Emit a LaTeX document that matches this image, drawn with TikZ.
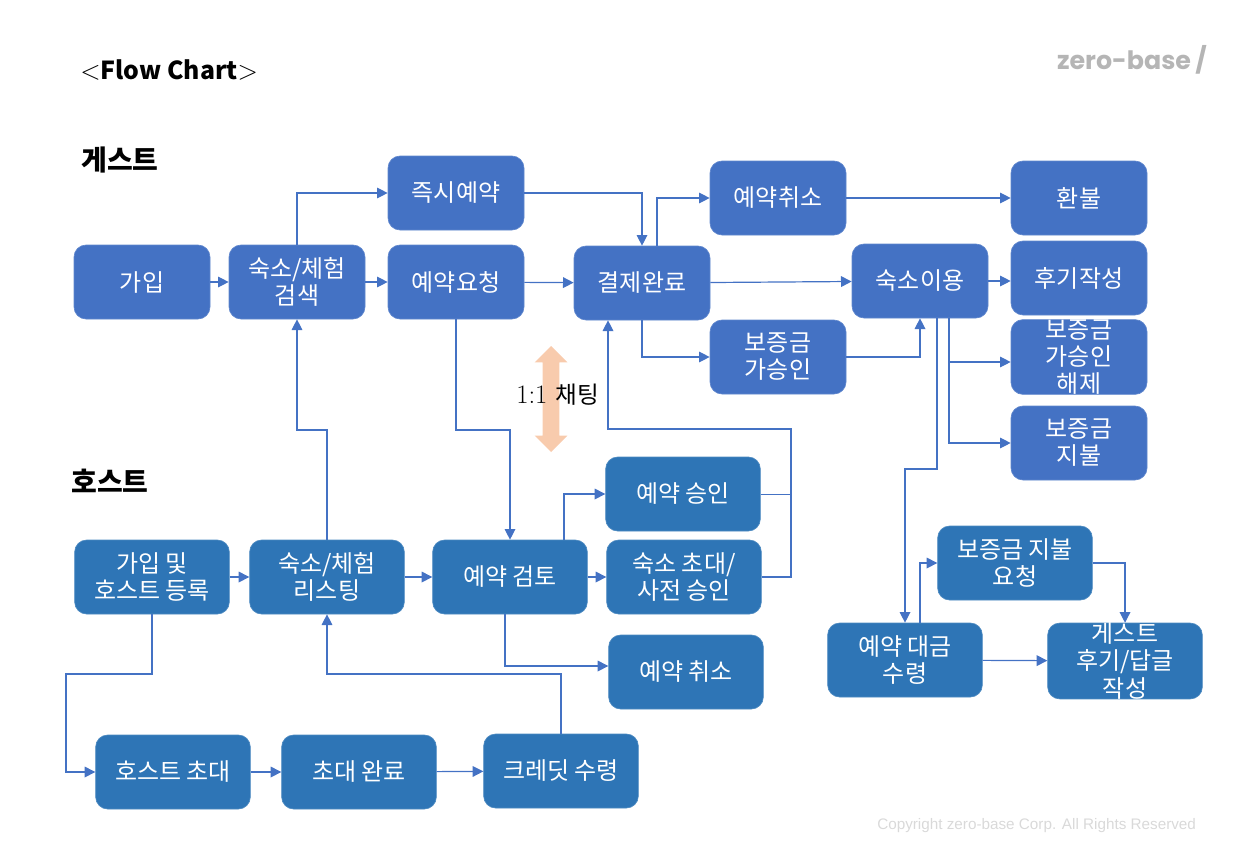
\documentclass[tikz,border=0pt]{standalone}
\usepackage{fontspec}
\usepackage{xcolor}
\usetikzlibrary{arrows.meta,calc,shapes.arrows}
\newfontfamily\kor{Noto Sans CJK KR}
\newfontfamily\logofont{Poppins}
\newfontfamily\copyfont{Liberation Sans}
\definecolor{gBlue}{HTML}{4472C4}
\definecolor{hBlue}{HTML}{2E75B6}
\definecolor{chatPeach}{HTML}{F8CBAD}
\definecolor{logoGray}{HTML}{B5B5B5}
\definecolor{copyGray}{HTML}{D9D9D9}
\tikzset{
  gbox/.style={rectangle, rounded corners=9pt, fill=gBlue, draw=gBlue!85!white, line width=0.5pt, minimum width=102pt, minimum height=55.5pt, inner sep=0pt, align=center, text=white, font=\kor\fontsize{18}{20.3}\selectfont},
  hbox/.style={gbox, fill=hBlue, draw=hBlue!85!white, minimum width=116pt},
  conn/.style={draw=gBlue, line width=0.9pt, -{Triangle[length=8pt, width=8pt]}},
  head/.style={font=\kor\bfseries\fontsize{21}{24}\selectfont, text=black, inner sep=0pt},
}
\begin{document}
\begin{tikzpicture}[x=0.75pt, y=-0.75pt]
\useasboundingbox (0,0) rectangle (1245,860);
\node[inner sep=0pt, anchor=west] (title) at (80,70) {\fontsize{20}{24}\selectfont <\kor\bfseries\fontsize{18.6}{24}\selectfont Flow Chart\rmfamily\mdseries\fontsize{20}{24}\selectfont >};
\node[inner sep=0pt, anchor=east, text=logoGray, font=\logofont\bfseries\fontsize{19}{24}\selectfont] (logo) at (1207,60) {zero-base\,/};
\node[head, anchor=west] (guest) at (81,160) {게스트};
\node[head, anchor=west] (host) at (71,481) {호스트};
\node[inner sep=0pt, anchor=west, text=copyGray, font=\copyfont\fontsize{11.45}{13}\selectfont] (copy) at (877,826) {Copyright zero-base Corp. All Rights Reserved};
\node[double arrow, rotate=90, fill=chatPeach, inner sep=6pt, minimum height=79.5pt, minimum width=24pt, double arrow head extend=6pt] (chat) at (551,399) {};
\node[inner sep=0pt, anchor=west] (chatlbl) at (516,395) {\fontsize{20}{24}\selectfont 1:1\hspace{6pt}\kor\fontsize{17.7}{24}\selectfont 채팅};
\node[gbox] (join) at (142,282) {가입};
\node[gbox] (search) at (297,282) {숙소/체험\\검색};
\node[gbox] (request) at (456,282) {예약요청};
\node[gbox] (instant) at (456,193) {즉시예약};
\node[gbox] (pay) at (642,283) {결제완료};
\node[gbox] (cancel) at (778,198) {예약취소};
\node[gbox] (refund) at (1079,198) {환불};
\node[gbox] (stay) at (920,281) {숙소이용};
\node[gbox] (review) at (1079,278) {후기작성};
\node[gbox] (deposit) at (778,357) {보증금\\가승인};
\node[gbox] (release) at (1079,357) {보증금\\가승인\\해제};
\node[gbox] (settle) at (1079,443) {보증금\\지불};
\node[hbox] (hjoin) at (152,577) {가입 및\\호스트 등록};
\node[hbox] (listing) at (327,577) {숙소/체험\\리스팅};
\node[hbox] (check) at (510,577) {예약 검토};
\node[hbox] (approve) at (683,494) {예약 승인};
\node[hbox] (preok) at (684,577) {숙소 초대/\\사전 승인};
\node[hbox] (hcancel) at (686,672) {예약 취소};
\node[hbox] (invite) at (173,772) {호스트 초대};
\node[hbox] (invited) at (359,772) {초대 완료};
\node[hbox] (credit) at (561,771) {크레딧 수령};
\node[hbox] (claim) at (1015,563) {보증금 지불\\요청};
\node[hbox] (income) at (905,660) {예약 대금\\수령};
\node[hbox] (hreview) at (1125,661) {게스트\\후기/답글\\작성};
\coordinate (bendA) at (791,429);
\coordinate (bendB) at (510,430);
\coordinate (bendC) at (297,430);
\coordinate (bendD) at (905,469);
\coordinate (bendE) at (66,674);
\coordinate (bendF) at (327,674);
\draw[conn] (join) -- (search);
\draw[conn] (search.north) |- (instant.west);
\draw[conn] (search) -- (request);
\draw[conn] (instant.east) -| (pay.north);
\draw[conn] (request) -- (pay);
\draw[conn] ($(pay.north)+(15,0)$) |- (cancel.west);
\draw[conn] (cancel) -- (refund);
\draw[conn] (pay) -- (stay);
\draw[conn] (pay.south) |- (deposit.west);
\draw[conn] (deposit.east) -| (stay.south);
\draw[conn] (stay.east) -- (review.west |- stay.east);
\draw[conn] ($(stay.south)+(29,0)$) |- ($(release.west)+(0,5)$);
\draw[conn] ($(stay.south)+(29,0)$) |- (settle.west);
\draw[conn] ($(stay.south)+(17,0)$) |- (bendD) -- (income.north);
\draw[conn] (request.south) |- (bendB) -- (check.north);
\draw[conn] (listing.north) |- (bendC) -- (search.south);
\draw[conn] (hjoin) -- (listing);
\draw[conn] (listing) -- (check);
\draw[conn] ($(check.north)+(54,0)$) |- (approve.west);
\draw[conn] (check) -- (preok);
\draw[conn] ($(check.south)+(-5,0)$) |- ($(hcancel.west)+(0,-6)$);
\draw[conn] (preok.east) -| (bendA) -| ($(pay.south)+(-34,0)$);
\draw[draw=gBlue, line width=0.6pt] (approve.east) -- (approve.east -| bendA);
\draw[conn] (hjoin.south) |- (bendE) |- (invite.west);
\draw[conn] (invite) -- (invited);
\draw[conn] (invited) -- (credit);
\draw[conn] (credit.north) |- (bendF) -- (listing.south);
\draw[conn] ($(income.north)+(15,0)$) |- (claim.west);
\draw[conn] (claim.east) -| (hreview.north);
\draw[conn] (income) -- (hreview);
\end{tikzpicture}
\end{document}
